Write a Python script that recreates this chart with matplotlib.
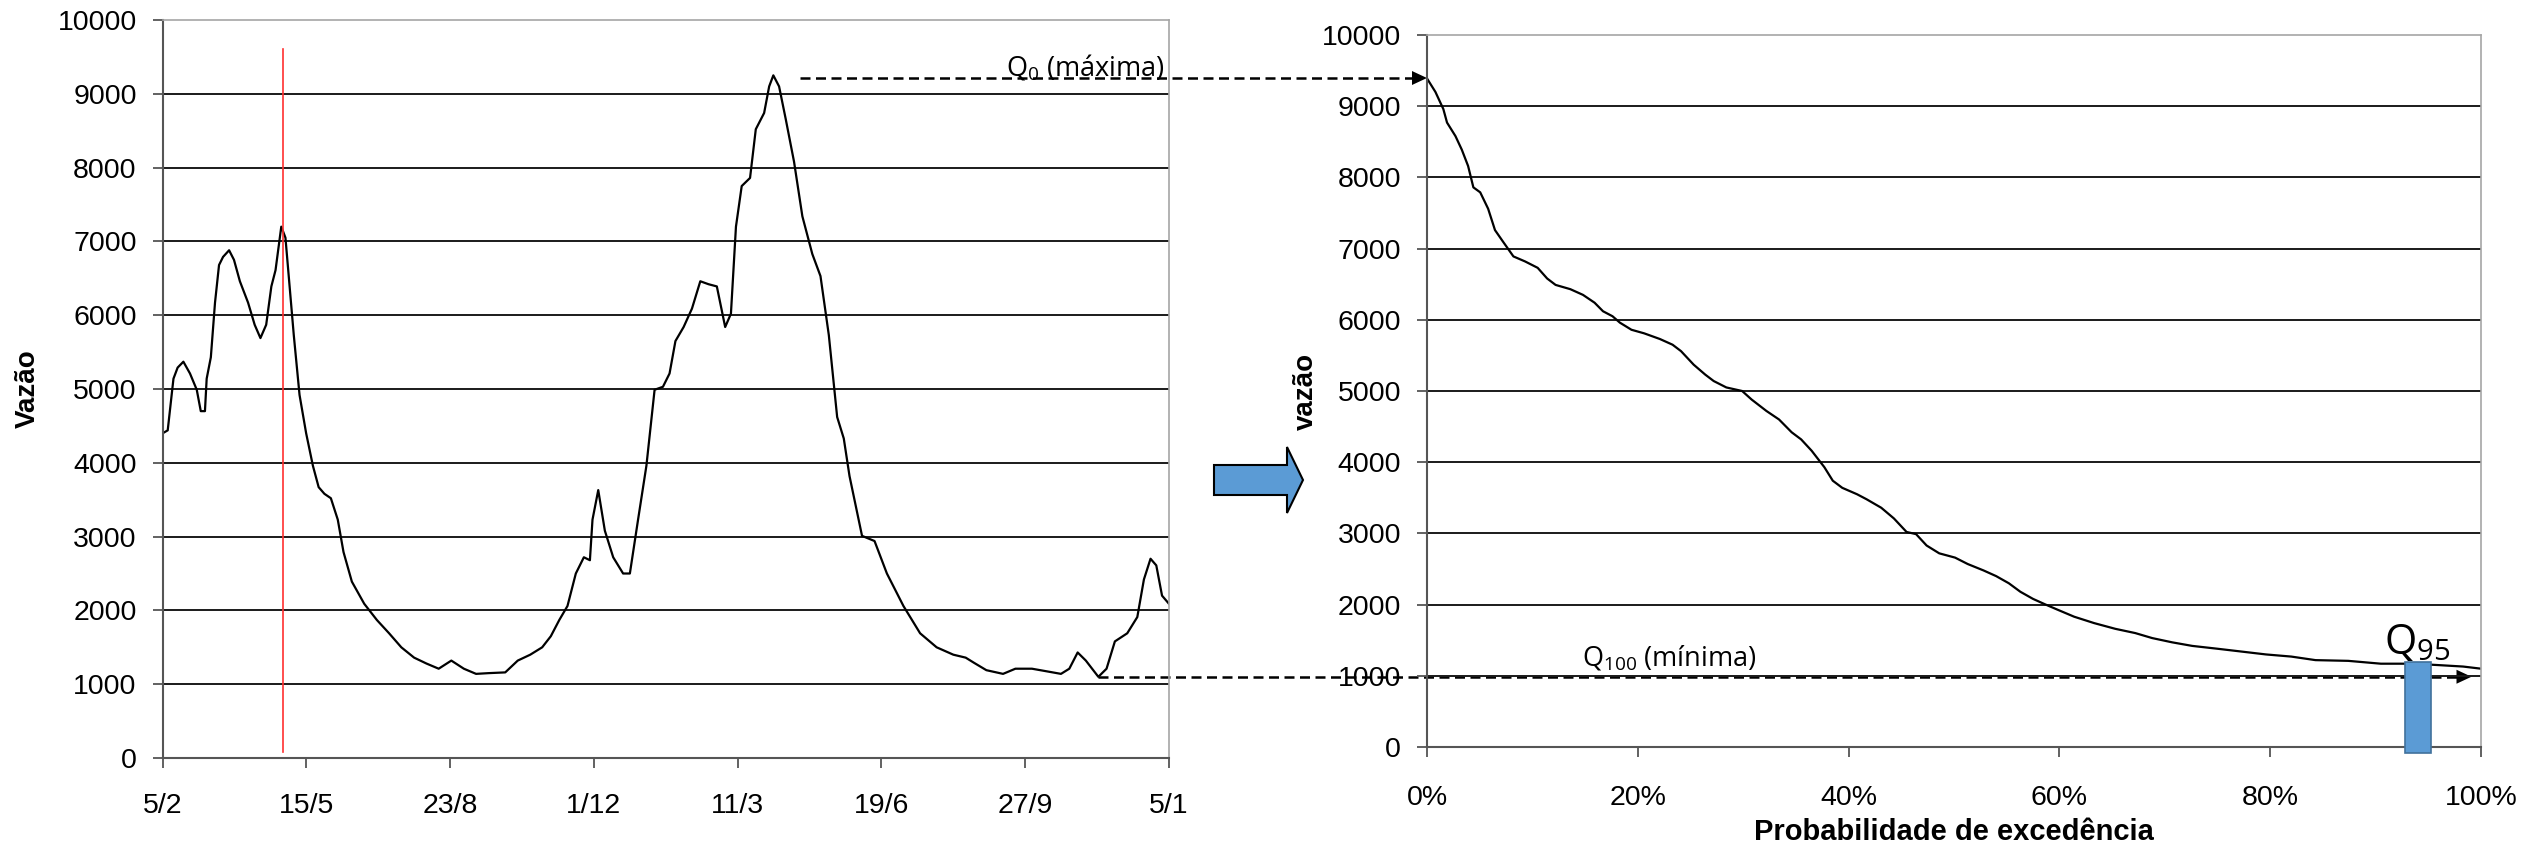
import matplotlib
matplotlib.use("Agg")
import matplotlib.pyplot as plt
import matplotlib.patches as mpatches

plt.rcParams["font.family"] = ["Liberation Sans", "DejaVu Sans"]
plt.rcParams["mathtext.default"] = "regular"

W, H = 2534, 849

# ---- hidrograma (dias contados a partir de 5/2) ----
dias = [0, 3.5, 7.5, 10.4, 14.4, 19, 23.7, 26.5, 29.4, 30.6, 33.5, 36.4, 39.2, 42, 46.2,
        49.6, 53.7, 59.4, 64, 68, 72, 75.6, 78.5, 82.5, 85.4, 88.3, 91.2, 95.2, 99.8,
        104.5, 108.5, 112.5, 117, 121.8, 125.8, 131.6, 140.2, 149, 157.5, 166, 174.9,
        183.5, 192, 200.8, 209.5, 218, 226.8, 238.3, 247, 255.7, 264, 270, 275.9, 281.6,
        287.4, 293, 297.2, 299, 303, 307.6, 313.4, 320.3, 325, 330.7, 336.5, 342.2, 348,
        352.6, 356.7, 362.4, 368.2, 374, 379.7, 385.5, 391.3, 395.3, 398.8, 402.8, 408.6,
        412.6, 418.4, 421.9, 424.8, 428.8, 433.4, 439.2, 445, 451.9, 457.6, 463.4, 469.2,
        473.8, 477.8, 486.5, 495.2, 503.8, 515.3, 526.9, 538.4, 550, 558.6, 564.4, 573,
        584.6, 593.2, 604.7, 613.4, 624.9, 630.7, 636.5, 642.2, 650.9, 656.6, 662.4, 671,
        678, 682.6, 687.2, 691.2, 695.2, 700]
vazao = [4400, 4440, 5140, 5290, 5370, 5210, 4990, 4700, 4700, 5140, 5430, 6170, 6680, 6790, 6880,
         6750, 6460, 6170, 5870, 5690, 5870, 6390, 6610, 7200, 7050, 6390, 5730, 4920, 4400,
         3960, 3670, 3580, 3520, 3230, 2790, 2390, 2090, 1870, 1690, 1500, 1360,
         1280, 1210, 1320, 1210, 1140, 1150, 1160, 1320, 1400, 1500, 1650, 1870, 2060,
         2500, 2720, 2680, 3230, 3630, 3080, 2720, 2500, 2500, 3230, 3960, 4990, 5030,
         5210, 5650, 5840, 6090, 6460, 6420, 6390, 5840, 6020, 7200, 7750, 7860,
         8520, 8740, 9100, 9250, 9100, 8660, 8080, 7340, 6830, 6530, 5730, 4620,
         4330, 3820, 3010, 2940, 2500, 2060, 1690, 1500, 1400, 1360, 1290, 1190,
         1140, 1210, 1210, 1180, 1140, 1210, 1430, 1320, 1100, 1210, 1580, 1690,
         1910, 2420, 2700, 2610, 2200, 2090]
tick_dias = [0, 100, 200, 300, 400, 500, 600, 700]
tick_datas = ["5/2", "15/5", "23/8", "1/12", "11/3", "19/6", "27/9", "5/1"]
dia_marcado = 83.5

# ---- curva de permanência ----
prob = [0, 0.8, 1.55, 1.9, 2.7, 3.3, 3.9, 4.4, 5.05, 5.8, 6.45, 7.2, 8.2, 9.3, 10.5, 11.4,
        12.2, 13.6, 14.8, 15.9, 16.7, 17.6, 18.3, 19.4, 20.6, 22.1, 23.3, 24.1, 25.3, 26.4,
        27.2, 28.4, 29.9, 30.8, 32.2, 33.4, 34.6, 35.5, 36.5, 37.7, 38.5, 39.4, 40.8, 41.7,
        43.1, 44.3, 45.5, 46.4, 47.4, 48.6, 50.1, 51.3, 52.8, 54, 55.2, 56.3, 57.5, 58.7,
        59.8, 61.4, 63.3, 65.3, 67.2, 68.8, 70.7, 72.6, 75, 77.3, 79.6, 82, 84.3, 87.4,
        90.5, 93.6, 96, 98.3, 100]
vazao_ord = [9390, 9200, 8960, 8770, 8580, 8390, 8160, 7860, 7790, 7560, 7260, 7100, 6890, 6820,
             6730, 6580, 6490, 6430, 6350, 6240, 6120, 6050, 5960, 5860, 5810, 5730, 5650,
             5560, 5370, 5230, 5140, 5050, 5000, 4880, 4720, 4600, 4420, 4320, 4160, 3930,
             3740, 3640, 3550, 3480, 3360, 3210, 3020, 2990, 2830, 2720, 2660, 2570, 2480,
             2400, 2300, 2180, 2080, 2000, 1930, 1830, 1740, 1660, 1600, 1530, 1470, 1420,
             1380, 1340, 1300, 1270, 1220, 1210, 1170, 1170, 1150, 1130, 1100]
tick_prob = [0, 20, 40, 60, 80, 100]
q95_prob = 94.0
q95_base, q95_topo = -80, 1200

# níveis das setas tracejadas
q0_dia, q0_nivel = 443.5, 9214
q100_dia, q100_nivel = 651, 1101
q100_fim = 99.1

fig = plt.figure(figsize=(W / 100, H / 100), dpi=100)
fig.patch.set_facecolor("white")

# camada de anotação em pixels (origem no topo)
over = fig.add_axes([0, 0, 1, 1], zorder=0)
over.set_xlim(0, W)
over.set_ylim(H, 0)
over.axis("off")

ax1 = fig.add_axes([0.0642, 0.10718, 0.3971, 0.86926], zorder=1)
ax2 = fig.add_axes([0.56314, 0.12014, 0.41594, 0.83864], zorder=1)

for ax in (ax1, ax2):
    ax.patch.set_alpha(0)
    ax.set_ylim(0, 10000)
    ax.set_yticks(range(0, 10001, 1000))
    ax.set_yticklabels([str(v) for v in range(0, 10001, 1000)])
    ax.yaxis.grid(True, color="#1a1a1a", linewidth=1.4)
    ax.set_axisbelow(True)
    gl = ax.yaxis.get_gridlines()
    gl[0].set_visible(False)
    gl[-1].set_visible(False)
    for s in ("left", "bottom"):
        ax.spines[s].set_color("#555555")
        ax.spines[s].set_linewidth(1.5)
    for s in ("top", "right"):
        ax.spines[s].set_color("#a6a6a6")
        ax.spines[s].set_linewidth(1.2)
    ax.tick_params(axis="both", direction="out", length=7.2, width=1.3,
                   color="#555555", labelsize=20.5)
    ax.tick_params(axis="y", pad=11.5)

# ---- hidrograma ----
ax1.plot(dias, vazao, color="black", linewidth=1.6)
ax1.axvline(dia_marcado, ymin=0.0085, ymax=0.9607, color="#ff3030", linewidth=1.2)
ax1.set_xlim(0, 700)
ax1.set_xticks(tick_dias)
ax1.set_xticklabels(tick_datas)
ax1.tick_params(axis="x", pad=18)
ax1.set_ylabel("Vazão", fontsize=20, fontweight="bold", va="baseline")
ax1.yaxis.set_label_coords(-0.127, 0.5)

# ---- curva de permanência ----
ax2.plot(prob, vazao_ord, color="black", linewidth=1.6)
ax2.bar(q95_prob, q95_topo - q95_base, bottom=q95_base, width=2.5,
        color="#5b9bd5", edgecolor="#41719c", linewidth=1.2, clip_on=False, zorder=3)
ax2.set_xlim(0, 100)
ax2.set_xticks(tick_prob)
ax2.set_xticklabels([f"{p}%" for p in tick_prob])
ax2.tick_params(axis="x", pad=20)
ax2.set_ylabel("vazão", fontsize=20, fontweight="bold", va="baseline")
ax2.yaxis.set_label_coords(-0.108, 0.5)
ax2.set_xlabel("Probabilidade de excedência", fontsize=21, fontweight="bold")
ax2.xaxis.set_label_coords(0.5, -0.1)


def to_over(ax, x, y):
    return over.transData.inverted().transform(ax.transData.transform((x, y)))


def seta_tracejada(x0, x_tip, y):
    head = 15
    over.plot([x0, x_tip - head], [y, y], color="black", linewidth=1.8,
              dashes=(4, 2.2))
    over.add_patch(mpatches.FancyArrow(x_tip - head, y, head, 0, width=0,
                                       head_width=14, head_length=head,
                                       length_includes_head=True,
                                       color="black", linewidth=0))


# Q0 (máxima)
x0, y0 = to_over(ax1, q0_dia, q0_nivel)
xt, _ = to_over(ax2, 0, 0)
seta_tracejada(x0, xt, y0)
over.text(1006, 75, "Q$_0$ (máxima)", fontsize=19.5, family=["Open Sans", "DejaVu Sans"],
          ha="left", va="baseline")

# Q100 (mínima)
x0, y0 = to_over(ax1, q100_dia, q100_nivel)
xt, _ = to_over(ax2, q100_fim, 0)
seta_tracejada(x0, xt, y0)
over.text(1582, 666, "Q$_{100}$ (mínima)", fontsize=19.5, family=["Open Sans", "DejaVu Sans"],
          ha="left", va="baseline")

# Q95
ax2.text(q95_prob, 1300, "Q$_{95}$", fontsize=30, family=["Open Sans", "DejaVu Sans"],
         ha="center", va="baseline", zorder=4)

# seta azul entre os gráficos
over.add_patch(mpatches.FancyArrow(1214, 480, 89, 0, width=30, head_width=66,
                                   head_length=16, length_includes_head=True,
                                   facecolor="#5b9bd5", edgecolor="black", linewidth=1.5))

fig.savefig("out.png", dpi=100, facecolor="white")
